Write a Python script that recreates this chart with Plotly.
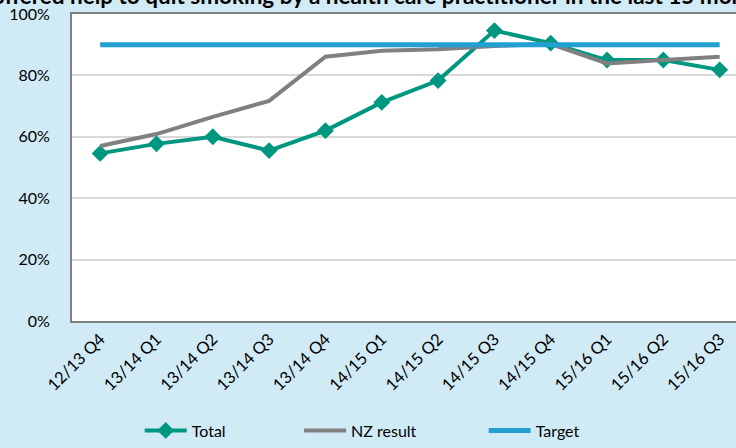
"""Offered help to quit smoking - quarterly line chart."""

import plotly.graph_objects as go

QUARTERS = [
    "12/13 Q4", "13/14 Q1", "13/14 Q2", "13/14 Q3", "13/14 Q4", "14/15 Q1",
    "14/15 Q2", "14/15 Q3", "14/15 Q4", "15/16 Q1", "15/16 Q2", "15/16 Q3",
]
TOTAL = [54.6, 57.7, 60.0, 55.5, 62.0, 71.2, 78.3, 94.6, 90.5, 85.0, 85.0, 81.8]
NZ_RESULT = [57.0, 60.9, 66.5, 71.7, 86.1, 88.0, 88.5, 89.6, 90.2, 83.9, 85.0, 86.1]
TARGET = [90] * len(QUARTERS)

TITLE = "offered help to quit smoking by a health care practitioner in the last 15 months"
FONT = "Lato, 'Open Sans', sans-serif"

fig = go.Figure()
fig.add_trace(go.Scatter(
    x=QUARTERS, y=TOTAL, name="Total", mode="lines+markers",
    line=dict(color="#009780", width=4),
    marker=dict(symbol="diamond", size=13, color="#009780"),
    legend="legend",
))
fig.add_trace(go.Scatter(
    x=QUARTERS, y=NZ_RESULT, name="NZ result", mode="lines",
    line=dict(color="#808080", width=4), legend="legend2",
))
fig.add_trace(go.Scatter(
    x=QUARTERS, y=TARGET, name="Target", mode="lines",
    line=dict(color="#21a0d2", width=5), legend="legend3",
))

# legends sit just inside the bottom edge so they never push the margins
legend_common = dict(
    orientation="h", yanchor="bottom", y=-0.412, xanchor="left",
    bgcolor="rgba(0,0,0,0)", font=dict(size=16, color="#000000", family=FONT),
    itemwidth=42,
)
fig.update_layout(
    width=736, height=448,
    paper_bgcolor="#d0ebf5", plot_bgcolor="#ffffff",
    font=dict(family=FONT, size=15, color="#000000"),
    margin=dict(l=72, r=0, t=14, b=127),
    showlegend=True,
    legend=dict(x=0.102, **legend_common),
    legend2=dict(x=0.342, **legend_common),
    legend3=dict(x=0.62, **legend_common),
    annotations=[dict(
        text=f"<b>{TITLE}</b>", xref="paper", yref="paper",
        x=-0.1235, y=1.0, xanchor="left", yanchor="bottom", yshift=3,
        showarrow=False, font=dict(size=22.5, family=FONT, color="#000000"),
    )],
)
fig.update_xaxes(
    type="category", range=[-0.5, 11.29], tickangle=-45, automargin=False,
    showline=True, linecolor="#808080", linewidth=2, mirror=True,
    showgrid=False, ticks="", tickfont=dict(size=16.5),
)
fig.update_yaxes(
    range=[0, 100], dtick=20, ticksuffix="%", automargin=False,
    showline=True, linecolor="#808080", linewidth=2,
    showgrid=True, gridcolor="#d9d9d9", gridwidth=1.5, zeroline=False,
    ticklabelstandoff=17, tickfont=dict(size=16),
)

# drop the browser's default 8px body margin so the figure fills the window
fig.write_html(
    "out.html",
    config={"displayModeBar": False},
    post_script="document.body.style.margin = '0';",
)
